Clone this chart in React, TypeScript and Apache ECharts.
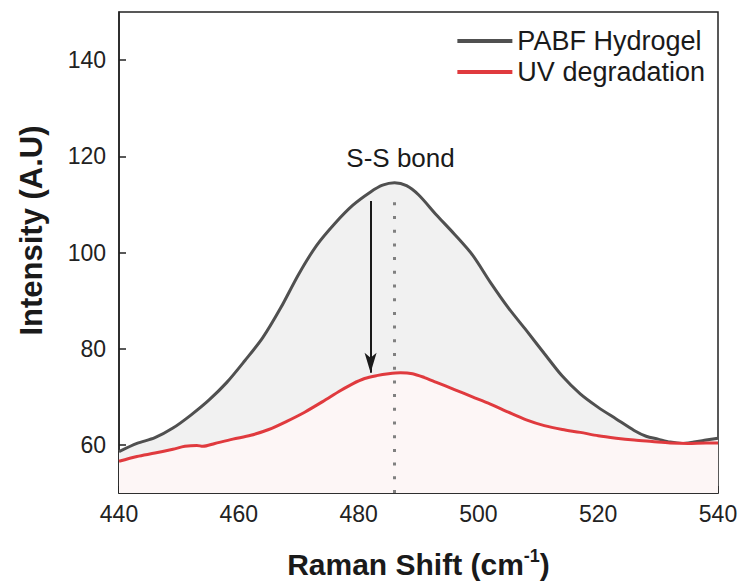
import React, { useEffect, useRef } from "react";
import * as echarts from "echarts";

const hydrogelX = [440, 443, 446, 449, 452, 455, 458, 461, 464, 467, 470, 473, 476, 479, 482, 484, 486, 488, 490, 493, 496, 499, 502, 505, 508, 511, 514, 517, 520, 523, 526, 528, 530, 532, 534, 536, 538, 540];
const hydrogelY = [58.6, 60.3, 61.5, 63.5, 66.2, 69.3, 73.0, 77.5, 82.3, 88.5, 95.5, 101.5, 106.0, 109.8, 112.6, 114.0, 114.5, 113.9, 112.0, 107.8, 103.8, 99.5, 93.8, 88.5, 83.8, 79.0, 74.3, 70.6, 67.8, 65.4, 63.0, 61.8, 61.2, 60.6, 60.3, 60.6, 61.0, 61.4];

const uvX = [440, 443, 446, 449, 451, 453, 454, 456, 459, 462, 465, 468, 471, 474, 477, 479, 481, 483, 485, 487, 489, 491, 493, 496, 499, 502, 505, 508, 511, 514, 517, 520, 523, 526, 529, 532, 535, 538, 540];
const uvY = [56.6, 57.6, 58.3, 59.1, 59.7, 59.9, 59.7, 60.3, 61.2, 62.0, 63.2, 64.9, 66.8, 69.0, 71.3, 72.7, 73.8, 74.4, 74.8, 75.0, 74.8, 74.0, 73.0, 71.5, 70.0, 68.5, 66.8, 65.2, 64.0, 63.2, 62.6, 61.9, 61.4, 61.0, 60.7, 60.4, 60.3, 60.4, 60.4];

const yTickValues = [60, 80, 100, 120, 140];
const seriesNames = ["PABF Hydrogel", "UV degradation"];

const peakX = 486;
const peakLineTop = 111;
const arrowX = 482;
const arrowFrom = 110.7;
const arrowTo = 75;
const labelPos = [487, 119.7];
const labelText = "S-S bond";

const FONT = "'Liberation Sans', Arial, sans-serif";

export default function App() {
  const ref = useRef<HTMLDivElement>(null);
  useEffect(() => {
    document.body.style.margin = "0";
    const chart = echarts.init(ref.current!, null, { renderer: "svg" });
    const zip = (xs: number[], ys: number[]) => xs.map((x, i) => [x, ys[i]]);
    chart.setOption({
      animation: false,
      backgroundColor: "#ffffff",
      textStyle: { fontFamily: FONT },
      grid: {
        left: 119,
        right: 25,
        top: 12,
        bottom: 92,
        show: true,
        borderColor: "#222",
        borderWidth: 1.5,
        backgroundColor: "transparent",
      },
      legend: {
        orient: "vertical",
        right: 38,
        top: 27,
        padding: 0,
        itemGap: 3,
        icon: "rect",
        itemWidth: 55,
        itemHeight: 4,
        itemStyle: { borderWidth: 0 },
        data: seriesNames,
        textStyle: { fontSize: 27, color: "#1a1a1a", fontFamily: FONT, lineHeight: 28 },
      },
      xAxis: {
        type: "value",
        min: 440,
        max: 540,
        interval: 20,
        name: "Raman Shift (cm{sup|-1})",
        nameLocation: "middle",
        nameGap: 54,
        nameTextStyle: {
          fontSize: 30,
          fontWeight: "bold",
          color: "#1a1a1a",
          fontFamily: FONT,
          rich: {
            sup: { fontSize: 18, fontWeight: "bold", color: "#1a1a1a", verticalAlign: "top", lineHeight: 34, fontFamily: FONT },
          },
        },
        splitLine: { show: false },
        axisLine: { show: true, lineStyle: { color: "#222", width: 1.5 } },
        axisTick: { show: true, inside: true, length: 7, lineStyle: { color: "#222", width: 1.5 } },
        axisLabel: { fontSize: 23, color: "#222", margin: 9, fontFamily: FONT },
      },
      yAxis: {
        type: "value",
        min: 50,
        max: 150,
        interval: 10,
        name: "Intensity (A.U)",
        nameLocation: "middle",
        nameRotate: 90,
        nameGap: 72,
        nameTextStyle: { fontSize: 31, fontWeight: "bold", color: "#1a1a1a", fontFamily: FONT, padding: [0, 0, 0, 44] },
        splitLine: { show: false },
        axisLine: { show: true, lineStyle: { color: "#222", width: 1.5 } },
        axisTick: { show: true, inside: true, length: 7, customValues: yTickValues, lineStyle: { color: "#222", width: 1.5 } },
        axisLabel: { fontSize: 23, color: "#222", margin: 13, customValues: yTickValues, fontFamily: FONT },
      },
      series: [
        {
          name: seriesNames[0],
          type: "line",
          data: zip(hydrogelX, hydrogelY),
          symbol: "none",
          smooth: 0.3,
          color: "#505050",
          lineStyle: { color: "#505050", width: 3 },
          areaStyle: { color: "#f1f1f1", opacity: 1, origin: "start" },
          markPoint: {
            silent: true,
            symbol: "circle",
            symbolSize: 0,
            data: [
              {
                coord: labelPos,
                label: { show: true, position: "inside", formatter: labelText, fontSize: 26, color: "#1a1a1a", fontFamily: FONT },
              },
            ],
          },
          markLine: {
            silent: true,
            symbol: ["none", "arrow"],
            symbolSize: [9, 20],
            label: { show: false },
            lineStyle: { color: "#1a1a1a", width: 2, type: "solid" },
            data: [[{ coord: [arrowX, arrowFrom] }, { coord: [arrowX, arrowTo] }]],
          },
          z: 2,
        },
        {
          name: seriesNames[1],
          type: "line",
          data: zip(uvX, uvY),
          symbol: "none",
          smooth: 0.3,
          color: "#e03a3e",
          lineStyle: { color: "#e03a3e", width: 3 },
          areaStyle: { color: "#fdf6f6", opacity: 1, origin: "start" },
          markLine: {
            silent: true,
            symbol: ["none", "none"],
            label: { show: false },
            lineStyle: { color: "#808080", width: 3, type: [3, 10.7] },
            data: [[{ coord: [peakX, 50] }, { coord: [peakX, peakLineTop] }]],
          },
          z: 3,
        },
      ],
    });
    return () => chart.dispose();
  }, []);
  return <div ref={ref} style={{ width: 743, height: 585 }} />;
}
